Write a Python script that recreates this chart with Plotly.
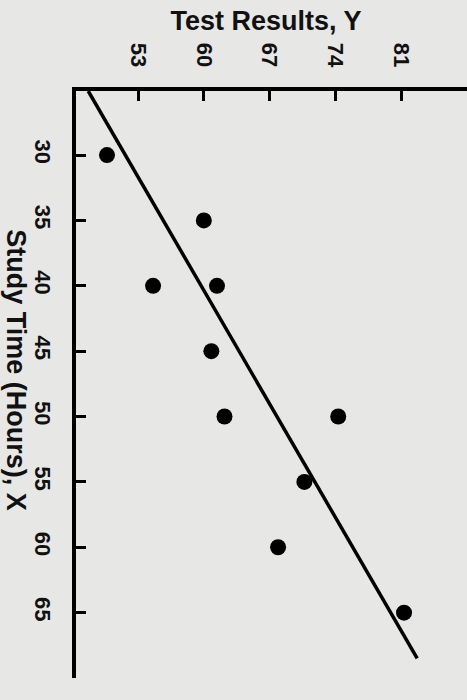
import plotly.graph_objects as go

# study time (hours) and test results
study_hours = [30, 35, 40, 40, 45, 50, 50, 55, 60, 65]
test_results = [49.7, 60.0, 54.6, 61.4, 60.8, 62.2, 74.3, 70.7, 67.9, 81.3]

# the drawn regression line, two end points
fit_hours = [25.1, 68.5]
fit_results = [47.7, 82.7]

result_ticks = [53, 60, 67, 74, 81]
hour_ticks = [30, 35, 40, 45, 50, 55, 60, 65]

BG = "#e7e7e5"
FONT = "Liberation Sans"

fig = go.Figure()

fig.add_trace(go.Scatter(
    x=fit_results, y=fit_hours,
    mode="lines",
    line=dict(color="black", width=3.5),
    hoverinfo="skip",
))

fig.add_trace(go.Scatter(
    x=test_results, y=study_hours,
    mode="markers",
    marker=dict(color="black", size=16),
))

# photo is rotated: test results run along the top, study time down the left
fig.update_xaxes(
    range=[46.4, 88.0],
    side="top",
    tickvals=result_ticks,
    tickangle=90,
    ticks="inside", ticklen=10, tickwidth=3, tickcolor="black",
    ticklabelstandoff=12,
    showline=True, linewidth=4, linecolor="black",
    showgrid=False, zeroline=False,
    automargin=False,
    tickfont=dict(family=FONT, size=22, color="#111", weight="bold"),
)
fig.update_yaxes(
    range=[70.0, 25.1],
    tickvals=hour_ticks,
    tickangle=90,
    ticks="inside", ticklen=10, tickwidth=3, tickcolor="black",
    ticklabelstandoff=11,
    showline=True, linewidth=4, linecolor="black",
    showgrid=False, zeroline=False,
    automargin=False,
    tickfont=dict(family=FONT, size=22, color="#111", weight="bold"),
)

fig.add_annotation(
    text="Study Time (Hours), X",
    xref="paper", yref="paper",
    x=-0.152, y=0.525,
    xanchor="center", yanchor="middle",
    textangle=90,
    showarrow=False,
    font=dict(family=FONT, size=27, color="#111", weight="bold"),
)

fig.update_layout(
    width=467, height=700,
    margin=dict(l=76, r=0, t=91, b=22),
    paper_bgcolor=BG, plot_bgcolor=BG,
    showlegend=False,
    title=dict(
        text="Test Results, Y",
        x=266 / 467, y=1 - 21 / 700,
        xanchor="center", yanchor="middle",
        font=dict(family=FONT, size=27, color="#111", weight="bold"),
    ),
)

# drop the browser's default page margin so the figure sits at 0,0
fig.write_html(
    "out.html",
    config={"displayModeBar": False},
    post_script="document.body.style.margin='0';"
                "document.body.style.background='" + BG + "';",
)
